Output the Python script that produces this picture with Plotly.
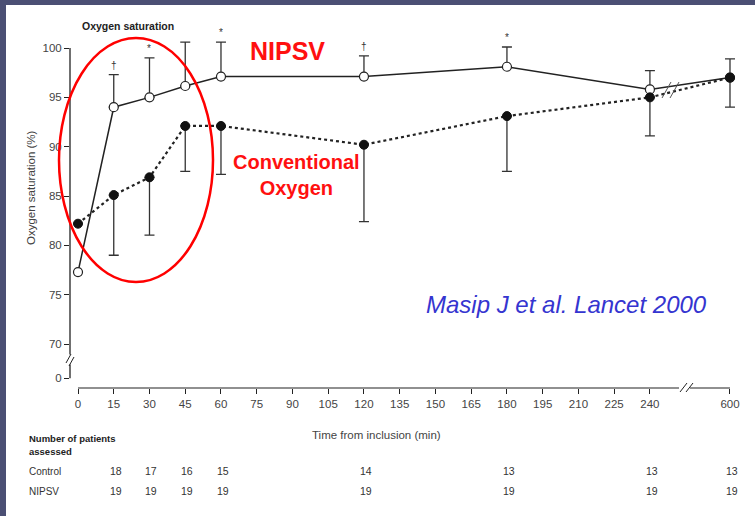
import plotly.graph_objects as go

# ---------------- data ----------------
times = [0, 15, 30, 45, 60, 120, 180, 240, 600]
nipsv = [77.3, 94.0, 95.0, 96.15, 97.1, 97.1, 98.1, 95.8, 97.0]
nipsv_err_up = [0, 3.3, 4.0, 4.45, 3.5, 2.1, 2.0, 1.9, 1.9]
control = [82.2, 85.1, 86.9, 92.1, 92.1, 90.2, 93.1, 95.0, 97.0]
control_err_down = [0, 6.1, 5.85, 4.6, 4.9, 7.8, 5.6, 3.9, 3.0]

sig_times = [15, 30, 60, 120, 180]
sig_marks = ["†", "*", "*", "†", "*"]

x_ticks = [0, 15, 30, 45, 60, 75, 90, 105, 120, 135, 150, 165, 180, 195, 210, 225, 240, 600]
y_ticks = [0, 70, 75, 80, 85, 90, 95, 100]

table_times = [15, 30, 45, 60, 120, 180, 240, 600]
control_n = [18, 17, 16, 15, 14, 13, 13, 13]
nipsv_n = [19, 19, 19, 19, 19, 19, 19, 19]

# ---------------- scale helpers (axis breaks) ----------------
W, H = 755, 516
ML, MR, MT, MB = 70, 15, 20, 128
PW, PH = W - ML - MR, H - MT - MB


def xmap(t):
    # x axis break between 240 and 600
    return t if t <= 240 else 273.6


def ymap(v):
    # y axis break between 0 and 70
    return v if v >= 70 else 66.55


def X(px):
    return (px - ML) / PW


def Y(py):
    return (H - MB - py) / PH


xs = [xmap(t) for t in times]
font = "Liberation Sans, Arial, sans-serif"
ink = "#222222"

fig = go.Figure()
fig.add_trace(go.Scatter(
    x=xs, y=nipsv, mode="lines+markers", name="NIPSV",
    line=dict(color=ink, width=1.5),
    marker=dict(symbol="circle", size=9, color="white", line=dict(color=ink, width=1.2)),
    error_y=dict(type="data", symmetric=False, array=nipsv_err_up,
                 arrayminus=[0] * len(nipsv), color="#333", thickness=1.3, width=5),
))
fig.add_trace(go.Scatter(
    x=xs, y=control, mode="lines+markers", name="Conventional oxygen",
    line=dict(color=ink, width=2.2, dash="dot"),
    marker=dict(symbol="circle", size=9, color="#111", line=dict(color="#111", width=1)),
    error_y=dict(type="data", symmetric=False, array=[0] * len(control),
                 arrayminus=control_err_down, color="#333", thickness=1.3, width=5),
))

shapes = []
# white slide panel over dark border
shapes.append(dict(type="rect", xref="paper", yref="paper", x0=X(6), x1=X(770),
                   y0=Y(530), y1=Y(5), fillcolor="white", line=dict(width=0), layer="below"))
# y axis line with break
shapes.append(dict(type="line", xref="paper", yref="y", x0=0, x1=0, y0=100, y1=68.95,
                   line=dict(color=ink, width=1.3)))
shapes.append(dict(type="line", xref="paper", yref="y", x0=0, x1=0, y0=67.93, y1=ymap(0),
                   line=dict(color=ink, width=1.3)))
for dx in (0, 3):
    shapes.append(dict(type="line", xref="paper", yref="paper",
                       x0=X(66 + dx), y0=Y(363 + dx), x1=X(71 + dx), y1=Y(354 + dx),
                       line=dict(color=ink, width=1)))
# x axis line with break
shapes.append(dict(type="line", xref="x", yref="paper", x0=0, x1=(679 - 78) / 2.383, y0=0, y1=0,
                   line=dict(color=ink, width=1.2)))
shapes.append(dict(type="line", xref="x", yref="paper", x0=(690 - 78) / 2.383, x1=xmap(600), y0=0, y1=0,
                   line=dict(color=ink, width=1.2)))
for dx in (0, 6):
    shapes.append(dict(type="line", xref="paper", yref="paper",
                       x0=X(680 + dx), y0=Y(392), x1=X(687 + dx), y1=Y(383),
                       line=dict(color=ink, width=1)))
# break marks on the data lines
for dx in (0, 8):
    shapes.append(dict(type="line", xref="paper", yref="paper",
                       x0=X(662 + dx), y0=Y(98), x1=X(671 + dx), y1=Y(82),
                       line=dict(color="#555", width=1)))
# red ellipse highlight
shapes.append(dict(type="circle", xref="paper", yref="paper",
                   x0=X(59), x1=X(213), y0=Y(282), y1=Y(38),
                   line=dict(color="#ff0000", width=2.5)))


def label(px, py, text, size, color, anchor="center", angle=0, f=font):
    return dict(x=X(px), y=Y(py), xref="paper", yref="paper", text=text,
                showarrow=False, xanchor=anchor, yanchor="middle", textangle=angle,
                font=dict(family=f, size=size, color=color))


annotations = []
for t, m in zip(sig_times, sig_marks):
    i = times.index(t)
    annotations.append(dict(x=xmap(t), y=nipsv[i] + nipsv_err_up[i], xref="x", yref="y",
                            text=m, showarrow=False, xanchor="center", yanchor="bottom", yshift=2,
                            font=dict(family=font, size=10, color="#333")))

annotations += [
    label(80, 26, "<b>Oxygen saturation</b>", 10.5, "#222", anchor="left"),
    label(31, 188, "Oxygen saturation (%)", 11.5, "#444", angle=-90),
    label(376, 435, "Time from inclusion (min)", 11.5, "#444"),
    label(287, 51, "<b>NIPSV</b>", 25, "#ff1010"),
    label(296, 175, "<b>Conventional<br>Oxygen</b>", 20, "#ff1010"),
    label(566, 304, "<i>Masip J et al. Lancet 2000</i>", 24, "#3535d0"),
    label(27, 438, "<b>Number of patients</b>", 9.5, "#222", anchor="left"),
    label(27, 452, "<b>assessed</b>", 9.5, "#222", anchor="left"),
    label(27, 471, "Control", 10, "#333", anchor="left"),
    label(27, 491, "NIPSV", 10, "#333", anchor="left"),
]
for t, c, n in zip(table_times, control_n, nipsv_n):
    annotations.append(dict(x=xmap(t), y=Y(471), xref="x", yref="paper", text=str(c), xshift=2,
                            showarrow=False, xanchor="center", yanchor="middle",
                            font=dict(family=font, size=10.5, color="#333")))
    annotations.append(dict(x=xmap(t), y=Y(491), xref="x", yref="paper", text=str(n), xshift=2,
                            showarrow=False, xanchor="center", yanchor="middle",
                            font=dict(family=font, size=10.5, color="#333")))

fig.update_layout(
    width=W, height=H, autosize=False,
    margin=dict(l=ML, r=MR, t=MT, b=MB, pad=0),
    paper_bgcolor="#4b4f74", plot_bgcolor="rgba(0,0,0,0)",
    showlegend=False,
    shapes=shapes, annotations=annotations,
    xaxis=dict(range=[-8 / 2.383, (ML + PW - 78) / 2.383],
               tickvals=[xmap(t) for t in x_ticks], ticktext=[str(t) for t in x_ticks],
               ticks="outside", ticklen=5, tickwidth=1, tickcolor=ink,
               showgrid=False, zeroline=False, showline=False,
               tickfont=dict(family=font, size=11.5, color="#444")),
    yaxis=dict(range=[100 - (H - MB - 48) / 9.87, 100 + (48 - MT) / 9.87],
               tickvals=[ymap(v) for v in y_ticks], ticktext=[str(v) for v in y_ticks],
               ticks="outside", ticklen=5, tickwidth=1, tickcolor=ink,
               showgrid=False, zeroline=False, showline=False,
               tickfont=dict(family=font, size=11.5, color="#444")),
)

fig.write_html("out.html")
